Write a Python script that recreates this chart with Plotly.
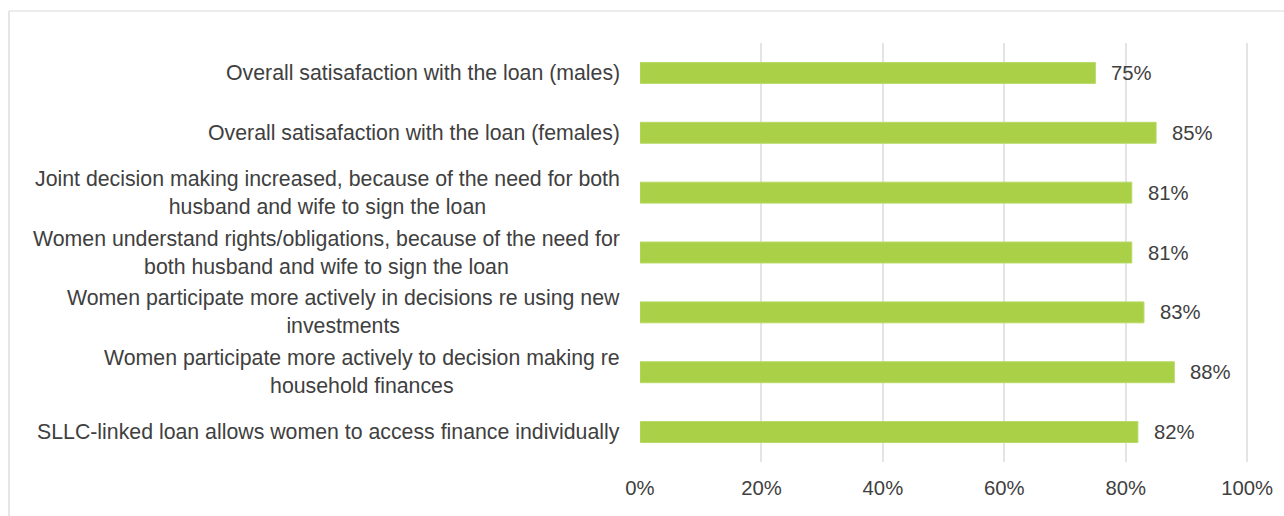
import plotly.graph_objects as go

# Survey statements (top to bottom) and share of respondents agreeing
categories = [
    "Overall satisafaction with the loan (males)",
    "Overall satisafaction with the loan (females)",
    "Joint decision making increased, because of the need for both<br>husband and wife to sign the loan",
    "Women understand rights/obligations, because of the need for<br>both husband and wife to sign the loan",
    "Women participate more actively in decisions re using new<br>investments",
    "Women participate more actively to decision making re<br>household finances",
    "SLLC-linked loan allows women to access finance individually",
]
values = [0.75, 0.85, 0.81, 0.81, 0.83, 0.88, 0.82]
value_labels = ["75%", "85%", "81%", "81%", "83%", "88%", "82%"]
x_ticks = [0, 0.2, 0.4, 0.6, 0.8, 1.0]
x_tick_labels = ["0%", "20%", "40%", "60%", "80%", "100%"]

FONT = "Liberation Sans, Arial, sans-serif"
TEXT = "#404040"
GREEN = "#A9D047"
GRID = "#e4e4e4"

W, H = 1284, 516
ML, MR, MT, MB = 640, 35, 43, 54
PW = W - ML - MR
PH = H - MT - MB

ids = list(range(len(categories)))

fig = go.Figure(
    go.Bar(
        x=values,
        y=ids,
        orientation="h",
        marker=dict(color=GREEN, line=dict(color="#b8da66", width=1)),
        hoverinfo="skip",
    )
)

annotations = []
# Category labels, centred line by line and right-aligned against the axis
for i, c in enumerate(categories):
    annotations.append(dict(
        x=0, xref="paper", y=i, yref="y",
        text=c, showarrow=False,
        xanchor="right", yanchor="middle", align="center",
        xshift=-18,
        font=dict(family=FONT, size=21.3, color=TEXT),
    ))
# Value labels beside each bar
for i, (v, lab) in enumerate(zip(values, value_labels)):
    annotations.append(dict(
        x=v, xref="x", y=i, yref="y",
        text=lab, showarrow=False,
        xanchor="left", yanchor="middle",
        xshift=14,
        font=dict(family=FONT, size=20.3, color=TEXT),
    ))

# Chart frame (top and left edges visible)
px = lambda p: (p - ML) / PW
py = lambda p: 1 - (p - MT) / PH
shapes = [
    dict(type="line", xref="paper", yref="paper",
         x0=px(9), x1=px(W + 5), y0=py(11), y1=py(11),
         line=dict(color="#e6e6e6", width=1.5)),
    dict(type="line", xref="paper", yref="paper",
         x0=px(9), x1=px(9), y0=py(11), y1=py(H + 5),
         line=dict(color="#e6e6e6", width=2)),
]

fig.update_layout(
    width=W, height=H,
    margin=dict(l=ML, r=MR, t=MT, b=MB, pad=0, autoexpand=False),
    paper_bgcolor="white", plot_bgcolor="white",
    showlegend=False,
    bargap=0.65,
    annotations=annotations,
    shapes=shapes,
    font=dict(family=FONT, size=20, color=TEXT),
)
fig.update_xaxes(
    range=[0, 1.003],
    tickvals=x_ticks, ticktext=x_tick_labels,
    showgrid=True, gridcolor=GRID, gridwidth=1.5,
    zeroline=False, showline=False,
    ticks="", ticklabelstandoff=12,
    tickfont=dict(family=FONT, size=20.3, color=TEXT),
    automargin=False,
    fixedrange=True,
)
fig.update_yaxes(
    range=[len(categories) - 0.5, -0.5],
    showticklabels=False, showgrid=False, zeroline=False, showline=False,
    ticks="", automargin=False, fixedrange=True,
)

fig.write_html("out.html", config={"displayModeBar": False})
